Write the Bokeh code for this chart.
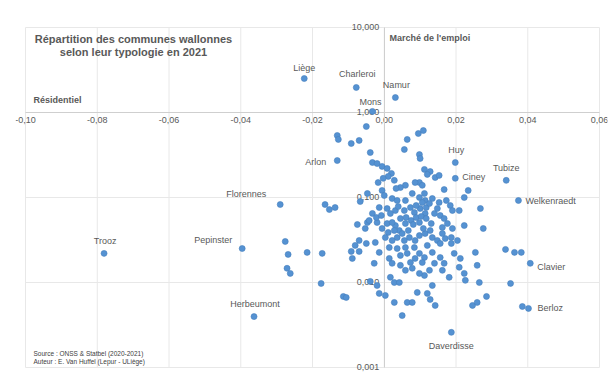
from bokeh.plotting import figure
from bokeh.models import FixedTicker, CustomJSTickFormatter, Label, ColumnDataSource
from bokeh.embed import file_html
from bokeh.resources import INLINE

# ---------------- data ----------------
x_ticks = [-0.10, -0.08, -0.06, -0.04, -0.02, 0.00, 0.02, 0.04, 0.06]
y_ticks = [0.001, 0.01, 0.1, 1, 10]

named_communes = ["Liège", "Charleroi", "Namur", "Mons", "Arlon", "Huy", "Ciney", "Tubize",
                  "Welkenraedt", "Florennes", "Pepinster", "Trooz", "Herbeumont", "Clavier",
                  "Berloz", "Daverdisse"]
named_x = [-0.0223, -0.0078, 0.0031, -0.0033, -0.0131, 0.0198, 0.0198, 0.0340,
           0.0374, -0.0290, -0.0396, -0.0781, -0.0363, 0.0407, 0.0402, 0.0187]
named_y = [2.51, 1.97, 1.50, 1.03, 0.272, 0.258, 0.168, 0.159,
           0.0922, 0.0827, 0.0251, 0.0220, 0.00397, 0.0168, 0.00495, 0.00259]

other_x = [-0.0050, 0.0095, 0.0109, 0.0064, 0.0056, -0.0131, -0.0128, -0.0092, -0.0070,
           -0.0039, -0.0033, -0.0020, 0.0098, 0.0100, -0.0006, 0.0008, 0.0020, 0.0011,
           0.0028, -0.0017, -0.0003, 0.0112, 0.0128, 0.0120, 0.0142, 0.0153, 0.0098,
           0.0086, 0.0106, 0.0059, 0.0045, 0.0033, 0.0167, 0.0223, 0.0234, 0.0268,
           -0.0006, 0.0000, 0.0022, 0.0036, 0.0059, 0.0078, 0.0098, 0.0112, 0.0114,
           0.0134, 0.0153, 0.0184, 0.0190, 0.0209, -0.0014, 0.0008, 0.0031, 0.0056,
           0.0073, 0.0084, 0.0100, 0.0114, 0.0156, 0.0167, -0.0165, -0.0153, -0.0137,
           -0.0067, -0.0047, -0.0075, -0.0047, -0.0053, -0.0020, 0.0008, 0.0031, 0.0059,
           0.0098, 0.0162, 0.0190, 0.0223, 0.0276, 0.0042, 0.0036, 0.0022, 0.0098,
           0.0070, 0.0114, 0.0134, 0.0148, 0.0156, 0.0170, 0.0187, 0.0187, -0.0025,
           -0.0014, -0.0028, 0.0014, 0.0036, 0.0059, 0.0084, 0.0098, 0.0112, 0.0086,
           0.0073, 0.0064, 0.0045, 0.0014, 0.0022, 0.0134, 0.0140, 0.0156, 0.0167,
           0.0195, 0.0212, 0.0209, 0.0126, 0.0112, 0.0098, 0.0078, 0.0059, 0.0017,
           0.0028, 0.0042, 0.0181, 0.0223, 0.0226, -0.0020, -0.0014, 0.0003, 0.0092,
           0.0120, 0.0134, 0.0028, 0.0064, 0.0078, 0.0128, 0.0142, 0.0050, 0.0246,
           0.0259, 0.0285, 0.0265, 0.0352, 0.0259, 0.0254, 0.0338, 0.0363, 0.0382,
           0.0385, -0.0276, -0.0268, -0.0215, -0.0173, -0.0271, -0.0262, -0.0176,
           -0.0114, -0.0106, -0.0070, -0.0081, -0.0050, -0.0092, -0.0070, -0.0089,
           -0.0039, -0.0033, -0.0022, -0.0008, -0.0042, 0.0089, 0.0106, 0.0117,
           0.0126, 0.0140, 0.0061, 0.0075, 0.0089, 0.0103, 0.0117, 0.0131, 0.0022,
           0.0028, 0.0050, 0.0162,
           0.0017, 0.0045, 0.0081, 0.0109, 0.0128, 0.0067, 0.0011, 0.0086, 0.0056,
           0.0120, 0.0039, 0.0148, 0.0173, 0.0176, 0.0204, -0.0006, 0.0003, 0.0106,
           0.0045, 0.0162]
other_y = [0.684, 0.566, 0.614, 0.482, 0.367, 0.536, 0.482, 0.432, 0.469,
           0.338, 0.258, 0.251, 0.320, 0.288, 0.232, 0.220, 0.192, 0.177,
           0.159, 0.150, 0.168, 0.214, 0.202, 0.187, 0.172, 0.182, 0.150,
           0.150, 0.139, 0.139, 0.131, 0.128, 0.124, 0.100, 0.121, 0.0742,
           0.121, 0.1056, 0.0973, 0.0922, 0.0922, 0.1115, 0.100, 0.1115, 0.0922,
           0.0973, 0.0874, 0.0805, 0.0703, 0.0703, 0.0762, 0.0742, 0.0703, 0.0703,
           0.0762, 0.0667, 0.0742, 0.0649, 0.0614, 0.0566, 0.0827, 0.0722, 0.0762,
           0.0897, 0.1115, 0.0481, 0.0508, 0.0432, 0.0508, 0.0494, 0.0468, 0.0494,
           0.0508, 0.0444, 0.0432, 0.0468, 0.0432, 0.0409, 0.0338, 0.0312, 0.0357,
           0.0338, 0.0377, 0.0338, 0.0312, 0.0288, 0.0329, 0.0338, 0.0288, 0.0296,
           0.0226, 0.0168, 0.0258, 0.0251, 0.0258, 0.0258, 0.0220, 0.0197, 0.0192,
           0.0172, 0.0220, 0.0208, 0.0192, 0.0168, 0.0226, 0.0168, 0.0197, 0.0168,
           0.0220, 0.0192, 0.0151, 0.0139, 0.0121, 0.0128, 0.0147, 0.0139, 0.0115,
           0.0100, 0.0100, 0.0115, 0.0128, 0.0106, 0.00922, 0.00744, 0.00704, 0.00764,
           0.00744, 0.00922, 0.00583, 0.00583, 0.00583, 0.00632, 0.00537, 0.00408, 0.00537,
           0.00583, 0.00685, 0.0100, 0.00974, 0.0159, 0.0226, 0.0245, 0.0226, 0.0226,
           0.00522, 0.0304, 0.0214, 0.0226, 0.0220, 0.0147, 0.0128, 0.00974,
           0.00685, 0.00667, 0.0312, 0.0273, 0.0288, 0.0232, 0.0232, 0.0192,
           0.0103, 0.0649, 0.0582, 0.0614, 0.0536, 0.0805, 0.0874, 0.0762,
           0.0850, 0.0649, 0.0582, 0.0536, 0.0582, 0.0598, 0.0566, 0.0494, 0.0508,
           0.0409, 0.0377, 0.0377,
           0.0649, 0.0566, 0.0481, 0.0432, 0.0409, 0.0409, 0.0388, 0.0312, 0.0312,
           0.0273, 0.0783, 0.0742, 0.0922, 0.0494, 0.0312, 0.0432, 0.0338, 0.0172,
           0.0159, 0.0139]

title_lines = "Répartition des communes wallonnes\nselon leur typologie en 2021"
source_lines = "Source : ONSS & Statbel (2020-2021)\nAuteur : E. Van Huffel (Lepur - ULiège)"

# ---------------- styles ----------------
FONT = "Liberation Sans"
DOT_FILL = "#5592d2"
DOT_LINE = "#477fbd"
GRID = "#e8e8e8"
AXIS = "#cfcfcf"
TXT = "#595959"

# label placement (align, x offset px, y offset px; y positive = up)
label_style = {
    "Liège": ("center", 0, 11), "Charleroi": ("center", 1, 13), "Namur": ("center", 1, 13),
    "Mons": ("center", -2, 9), "Arlon": ("right", -11, -1), "Huy": ("center", 1, 13),
    "Ciney": ("left", 7, 1), "Tubize": ("center", 0, 12), "Welkenraedt": ("left", 7, -1),
    "Florennes": ("center", -34, 11), "Pepinster": ("center", -29, 9),
    "Trooz": ("center", 1, 12), "Herbeumont": ("center", 1, 13),
    "Clavier": ("left", 7, -4), "Berloz": ("left", 9, 0), "Daverdisse": ("center", 0, -14),
}

p = figure(width=614, height=380,
           x_range=(-0.10279, 0.06223), y_range=(0.000873, 11.45),
           y_axis_type="log", output_backend="svg", toolbar_location=None,
           min_border_left=15, min_border_right=7, min_border_top=22, min_border_bottom=8)
p.title.visible = False
p.outline_line_color = None
p.background_fill_color = "white"
p.border_fill_color = "white"
p.xgrid.visible = False
p.ygrid.visible = False

# grid lines drawn from the tick arrays
p.segment(x0=x_ticks, x1=x_ticks, y0=[y_ticks[0]] * len(x_ticks), y1=[y_ticks[-1]] * len(x_ticks),
          line_color=GRID, line_width=1, level="image")
p.segment(x0=[x_ticks[0]] * len(y_ticks), x1=[x_ticks[-1]] * len(y_ticks), y0=y_ticks, y1=y_ticks,
          line_color=GRID, line_width=1, level="image")

for ax, loc, ticks, bnds, fmt in ((p.xaxis[0], 1, x_ticks, (x_ticks[0], x_ticks[-1]), 2),
                                  (p.yaxis[0], 0, y_ticks, (y_ticks[0], y_ticks[-1]), 3)):
    ax.fixed_location = loc
    ax.ticker = FixedTicker(ticks=ticks)
    ax.bounds = bnds
    ax.formatter = CustomJSTickFormatter(code=f"return tick.toFixed({fmt}).replace('.', ',');")
    ax.axis_line_color = AXIS
    ax.axis_line_width = 1
    ax.major_tick_line_color = None
    ax.minor_tick_line_color = None
    ax.major_tick_out = 0
    ax.major_tick_in = 0
    ax.major_label_text_font = FONT
    ax.major_label_text_font_size = "9px"
    ax.major_label_text_color = TXT
    ax.major_label_standoff = 5
    ax.level = "underlay"

src_o = ColumnDataSource(dict(x=other_x, y=other_y))
src_n = ColumnDataSource(dict(x=named_x, y=named_y))
for s in (src_o, src_n):
    p.scatter("x", "y", source=s, size=6, fill_color=DOT_FILL, line_color=DOT_LINE, line_width=0.6)

for name, xv, yv in zip(named_communes, named_x, named_y):
    align, dx, dy = label_style[name]
    p.add_layout(Label(x=xv, y=yv, text=name, x_offset=dx, y_offset=dy, text_align=align,
                       text_baseline="middle", text_font=FONT, text_font_size="9px",
                       text_color=TXT))

# screen-unit labels: measured from the plot frame's bottom-left corner
p.add_layout(Label(x=118, y=327, x_units="screen", y_units="screen", text=title_lines,
                   text_align="center", text_baseline="middle", text_font=FONT,
                   text_font_size="11px", text_font_style="bold", text_color=TXT,
                   text_line_height=1.15))
p.add_layout(Label(x=18, y=273, x_units="screen", y_units="screen", text="Résidentiel",
                   text_align="left", text_baseline="middle", text_font=FONT,
                   text_font_size="9px", text_font_style="bold", text_color=TXT))
p.add_layout(Label(x=374, y=335, x_units="screen", y_units="screen", text="Marché de l'emploi",
                   text_align="left", text_baseline="middle", text_font=FONT,
                   text_font_size="9px", text_font_style="bold", text_color=TXT))
p.add_layout(Label(x=18, y=15, x_units="screen", y_units="screen", text=source_lines,
                   text_align="left", text_baseline="middle", text_font=FONT,
                   text_font_size="6.5px", text_color="#404040", text_line_height=1.1))

open("out.html", "w").write(file_html(p, INLINE))
